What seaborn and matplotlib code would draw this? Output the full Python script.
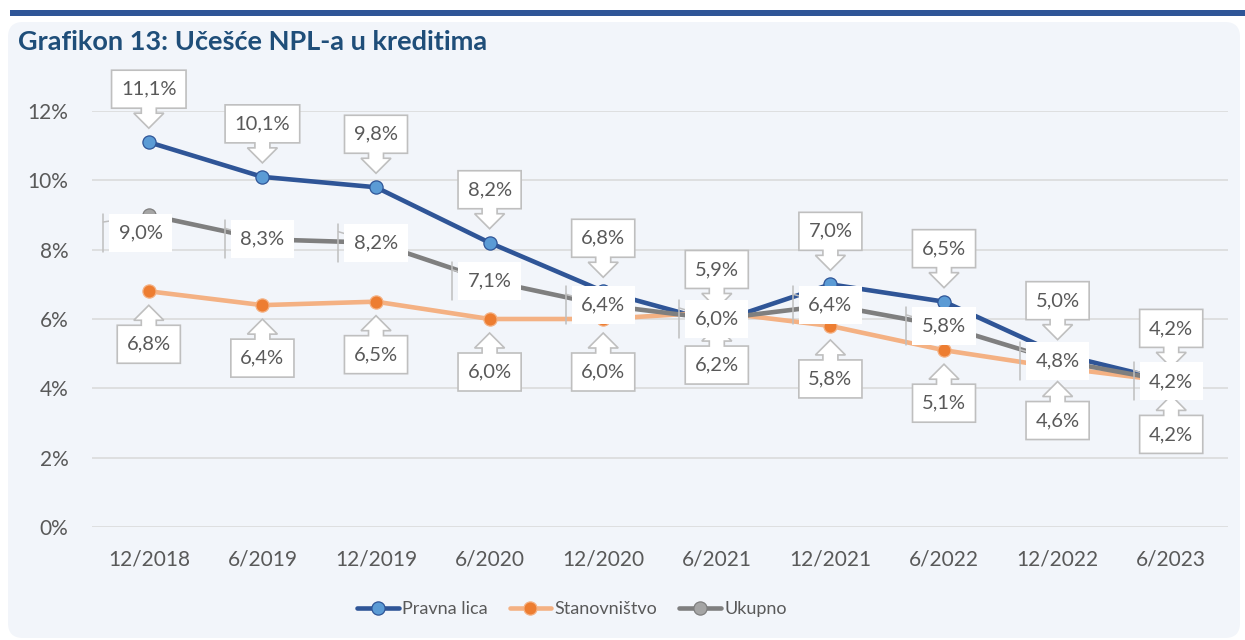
import pandas as pd
import seaborn as sns
import matplotlib.pyplot as plt
import matplotlib.transforms as mtransforms
from matplotlib.patches import Polygon, Rectangle, FancyBboxPatch

periods = ["12/2018", "6/2019", "12/2019", "6/2020", "12/2020",
           "6/2021", "12/2021", "6/2022", "12/2022", "6/2023"]
pravna_lica = [11.1, 10.1, 9.8, 8.2, 6.8, 5.9, 7.0, 6.5, 5.0, 4.2]
stanovnistvo = [6.8, 6.4, 6.5, 6.0, 6.0, 6.2, 5.8, 5.1, 4.6, 4.2]
ukupno = [9.0, 8.3, 8.2, 7.1, 6.4, 6.0, 6.4, 5.8, 4.8, 4.2]
y_ticks = [0, 2, 4, 6, 8, 10, 12]

sns.set_style("white")
plt.rcParams['font.family'] = ['Lato', 'DejaVu Sans']

TXT = '#595959'
EDGE = '#BFBFBF'

fig = plt.figure(figsize=(12.45, 6.4), dpi=100)
fig.patch.set_facecolor('white')

# panel background and top rule
fig.patches.append(FancyBboxPatch((0.08, 0.02), 12.32, 6.16,
                                  boxstyle="round,pad=0,rounding_size=0.15",
                                  transform=fig.dpi_scale_trans, fc='#F2F5FA', ec='none', zorder=-10))
fig.patches.append(Rectangle((0.10, 6.24), 12.35, 0.06, transform=fig.dpi_scale_trans,
                             fc='#2F5597', ec='none', zorder=-10))
fig.text(0.18, 5.90, "Grafikon 13: Učešće NPL-a u kreditima", transform=fig.dpi_scale_trans,
         fontsize=19.5, fontweight='bold', color='#1F4E79', va='baseline', ha='left')

ax = fig.add_axes([92 / 1245, 113 / 640, 1136 / 1245, 416 / 640])
ax.set_facecolor('none')

df = pd.DataFrame({'period': periods * 3,
                   'value': pravna_lica + stanovnistvo + ukupno,
                   'series': ['Pravna lica'] * 10 + ['Stanovništvo'] * 10 + ['Ukupno'] * 10})

styles = {
    'Pravna lica': dict(color='#2F5597', markerfacecolor='#5B9BD5', markeredgecolor='#2F5597'),
    'Stanovništvo': dict(color='#F4B183', markerfacecolor='#ED7D31', markeredgecolor='#F4B183'),
    'Ukupno': dict(color='#7F7F7F', markerfacecolor='#A5A5A5', markeredgecolor='#7F7F7F'),
}
for i, (name, st) in enumerate(styles.items()):
    sub = df[df['series'] == name]
    sns.lineplot(data=sub, x='period', y='value', ax=ax, sort=False, label=name,
                 linewidth=3.3, marker='o', markersize=9.5, markeredgewidth=0.9,
                 zorder=3 + i * 0.1, **st)

ax.set_xlim(-0.5, 9.5)
ax.set_ylim(0, 12)
ax.set_yticks(y_ticks)
ax.set_yticklabels([f"{t}%" for t in y_ticks])
ax.set_xticks(range(len(periods)))
ax.set_xticklabels(periods)
ax.grid(axis='y', color='#D9D9D9', linewidth=1.1)
ax.grid(axis='x', visible=False)
ax.set_axisbelow(True)
for s in ax.spines.values():
    s.set_visible(False)
ax.tick_params(axis='x', length=0, pad=16, labelsize=15, labelcolor=TXT)
ax.tick_params(axis='y', length=0, pad=17, labelsize=15, labelcolor=TXT)
ax.set_xlabel('')
ax.set_ylabel('')

leg = ax.legend(loc='center', bbox_to_anchor=(572 / 1245, 31 / 640), bbox_transform=fig.transFigure,
                ncol=3, frameon=False, fontsize=13, handlelength=2.3, handletextpad=0.2,
                columnspacing=1.2, labelcolor=TXT)

renderer = fig.canvas.get_renderer()


def at(i, v):
    return fig.dpi_scale_trans + mtransforms.ScaledTranslation(i, v, ax.transData)


def fmt(v):
    return f"{v:.1f}".replace('.', ',') + '%'


def callout(i, v, sign):
    tr = at(i, v)
    t = ax.text(0, sign * 0.53, fmt(v), transform=tr, ha='center', va='center',
                fontsize=14.5, color=TXT, zorder=6)
    tw = t.get_window_extent(renderer).width
    bw = tw / 2 + 9.5
    tip, head, bot, top, sw, hw = 14, 29, 34, 72, 7.5, 15
    pts = [(0, tip), (hw, head), (sw, head), (sw, bot), (bw, bot), (bw, top),
           (-bw, top), (-bw, bot), (-sw, bot), (-sw, head), (-hw, head)]
    pts = [(px / 100, sign * py / 100) for px, py in pts]
    ax.add_patch(Polygon(pts, closed=True, transform=tr, fc='white', ec=EDGE,
                         lw=1.2, zorder=5.5, clip_on=False))


def side_label(i, v, dx=0, dy=0):
    tr = at(i, v)
    cx, cy = dx / 100, dy / 100
    t = ax.text(cx, cy, fmt(v), transform=tr, ha='center', va='center',
                fontsize=14.5, color=TXT, zorder=7.5)
    tw = t.get_window_extent(renderer).width
    bw = (tw / 2 + 9.5) / 100
    bh = 0.19
    ax.add_patch(Rectangle((cx - bw, cy - bh), 2 * bw, 2 * bh, transform=tr,
                           fc='white', ec='none', zorder=7, clip_on=False))
    bx = cx - bw - 0.06
    ax.plot([bx, bx], [cy - bh, cy + bh], transform=tr, color=EDGE, lw=1.1,
            zorder=6.5, clip_on=False)
    ax.plot([bx, 0], [cy + bh - 0.08, 0], transform=tr, color=EDGE, lw=1.1,
            zorder=6.5, clip_on=False)


for i, v in enumerate(pravna_lica):
    callout(i, v, 1)
for i, v in enumerate(stanovnistvo):
    callout(i, v, -1)
for i, v in enumerate(ukupno):
    if i == 0:
        side_label(i, v, dx=-8, dy=-18)
    else:
        side_label(i, v)

fig.savefig("out.png", dpi=100, facecolor=fig.get_facecolor())
